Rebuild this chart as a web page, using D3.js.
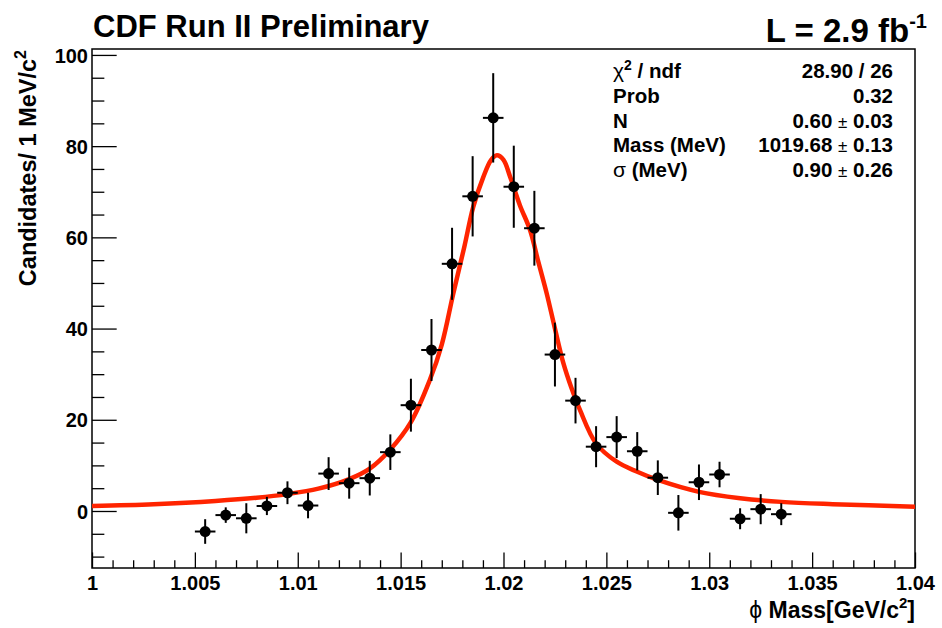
<!DOCTYPE html>
<html>
<head>
<meta charset="utf-8">
<script src="https://cdn.jsdelivr.net/npm/d3@7"></script>
<style>
  html, body { margin: 0; padding: 0; background: #fff; }
  svg text { font-family: "Liberation Sans", Arial, Helvetica, sans-serif; }
</style>
</head>
<body>
<svg id="chart" width="942" height="628"></svg>
<script>
// ---- data ----
const binCenters = [1.0055, 1.0065, 1.0075, 1.0085, 1.0095, 1.0105, 1.0115, 1.0125, 1.0135, 1.0145,
                    1.0155, 1.0165, 1.0175, 1.0185, 1.0195, 1.0205, 1.0215, 1.0225, 1.0235, 1.0245,
                    1.0255, 1.0265, 1.0275, 1.0285, 1.0295, 1.0305, 1.0315, 1.0325, 1.0335];
const candidates = [-4.5, -0.9, -1.6, 1.1, 4.0, 1.2, 8.2, 6.1, 7.2, 12.9,
                    23.2, 35.3, 54.2, 69.0, 86.2, 71.1, 62.0, 34.3, 24.2, 14.1,
                    16.2, 13.1, 7.3, -0.4, 6.3, 8.0, -1.7, 0.4, -0.7];
const errors     = [2.7, 1.7, 3.3, 2.0, 2.5, 2.8, 3.6, 3.4, 3.8, 3.9,
                    5.8, 6.8, 7.9, 8.8, 9.8, 9.0, 8.2, 7.0, 5.0, 4.5,
                    4.6, 4.2, 3.8, 3.9, 3.9, 2.8, 2.3, 3.3, 2.4];
const binHalfWidth = 0.0005;

// fit curve, points
const fitX = [1.000, 1.003, 1.006, 1.008, 1.0095, 1.011, 1.0125, 1.0135, 1.0145, 1.0155,
              1.0164, 1.0170, 1.01756, 1.0181, 1.01853, 1.0190, 1.0194, 1.01968, 1.0200, 1.02032,
              1.0208, 1.02129, 1.0217, 1.0221, 1.0225, 1.02291, 1.0233, 1.02372, 1.0245, 1.0255,
              1.0265, 1.0275, 1.0295, 1.0315, 1.0335, 1.036, 1.040];
const fitY = [1.1, 1.5, 2.2, 2.9, 3.7, 4.9, 7.0, 9.3, 13.5, 19.5,
              28.5, 36.5, 47.7, 58.0, 66.7, 73.0, 77.0, 78.0, 77.0, 73.3,
              67.0, 61.6, 54.5, 47.7, 40.0, 32.4, 27.0, 22.1, 14.8, 10.8,
              8.6, 6.8, 4.2, 2.8, 2.0, 1.5, 0.95];

const xMajorTicks = [1.0, 1.005, 1.01, 1.015, 1.02, 1.025, 1.03, 1.035, 1.04];
const xTickLabels = ["1", "1.005", "1.01", "1.015", "1.02", "1.025", "1.03", "1.035", "1.04"];
const yMajorTicks = [0, 20, 40, 60, 80, 100];
const yTickLabels = ["0", "20", "40", "60", "80", "100"];

const statNames  = ["χ2 / ndf", "Prob", "N", "Mass (MeV)", "σ (MeV)"];
const statValues = ["28.90 / 26", "0.32", "0.60 ± 0.03", "1019.68 ± 0.13", "0.90 ± 0.26"];

// ---- layout ----
const frame = { left: 92, right: 915, top: 49, bottom: 568 };
const svg = d3.select("#chart");
svg.append("rect").attr("width", 942).attr("height", 628).attr("fill", "#fff");

const x = d3.scaleLinear().domain([1.0, 1.04]).range([frame.left, frame.right]);
const y = d3.scaleLinear().domain([-12.5, 101.3]).range([frame.bottom, frame.top]);

const W = frame.right - frame.left, H = frame.bottom - frame.top;
const xTickLen = 0.03 * H, yTickLen = 0.03 * W;

// minor tick values
const xMinor = d3.range(0, 41).map(i => 1.0 + i * 0.001).filter(v => !xMajorTicks.some(m => Math.abs(m - v) < 1e-9));
const yMinor = d3.range(-10, 101, 5).filter(v => v % 20 !== 0);

// x axis
const gx = svg.append("g").attr("transform", `translate(0,${frame.bottom})`);
gx.call(d3.axisBottom(x).tickValues(xMajorTicks).tickSize(-xTickLen).tickPadding(8)
        .tickFormat((d, i) => xTickLabels[i]));
const gxm = svg.append("g").attr("transform", `translate(0,${frame.bottom})`);
gxm.call(d3.axisBottom(x).tickValues(xMinor).tickSize(-xTickLen / 2).tickFormat(""));

// y axis
const gy = svg.append("g").attr("transform", `translate(${frame.left},0)`);
gy.call(d3.axisLeft(y).tickValues(yMajorTicks).tickSize(-yTickLen).tickPadding(4)
        .tickFormat((d, i) => yTickLabels[i]));
const gym = svg.append("g").attr("transform", `translate(${frame.left},0)`);
gym.call(d3.axisLeft(y).tickValues(yMinor).tickSize(-yTickLen / 2).tickFormat(""));

[gx, gxm, gy, gym].forEach(g => {
  g.select(".domain").remove();
  g.selectAll(".tick line").attr("stroke", "#000").attr("stroke-width", 1.3);
});
gx.selectAll(".tick text").attr("font-size", 20).attr("font-weight", "bold").attr("fill", "#000")
  .attr("font-family", "Liberation Sans, Arial, sans-serif");
gy.selectAll(".tick text").attr("font-size", 20).attr("font-weight", "bold").attr("fill", "#000")
  .attr("font-family", "Liberation Sans, Arial, sans-serif").attr("dy", "0.36em");

// frame
svg.append("rect").attr("x", frame.left).attr("y", frame.top).attr("width", W).attr("height", H)
  .attr("fill", "none").attr("stroke", "#000").attr("stroke-width", 1.5);

// clip
svg.append("clipPath").attr("id", "clip").append("rect")
  .attr("x", frame.left).attr("y", frame.top).attr("width", W).attr("height", H);

const data = binCenters.map((c, i) => ({ x: c, y: candidates[i], e: errors[i] }));
const plot = svg.append("g").attr("clip-path", "url(#clip)");

// fit curve
const fitPts = fitX.map((v, i) => [v, fitY[i]]);
plot.append("path").datum(fitPts)
  .attr("d", d3.line().x(d => x(d[0])).y(d => y(d[1])).curve(d3.curveCatmullRom.alpha(0.5)))
  .attr("fill", "none").attr("stroke", "#ff2400").attr("stroke-width", 4.5).attr("stroke-linejoin", "round");

// error bars & markers
const pts = plot.append("g");
pts.selectAll("line.v").data(data).join("line").attr("class", "v")
  .attr("x1", d => x(d.x)).attr("x2", d => x(d.x))
  .attr("y1", d => y(d.y - d.e)).attr("y2", d => y(d.y + d.e))
  .attr("stroke", "#000").attr("stroke-width", 2);
pts.selectAll("line.h").data(data).join("line").attr("class", "h")
  .attr("x1", d => x(d.x - binHalfWidth)).attr("x2", d => x(d.x + binHalfWidth))
  .attr("y1", d => y(d.y)).attr("y2", d => y(d.y))
  .attr("stroke", "#000").attr("stroke-width", 2);
pts.selectAll("circle").data(data).join("circle")
  .attr("cx", d => x(d.x)).attr("cy", d => y(d.y)).attr("r", 5.5).attr("fill", "#000");

// title
svg.append("text").attr("x", 93).attr("y", 37).attr("font-size", 31).attr("font-weight", "bold")
  .text("CDF Run II Preliminary");

// luminosity
const lum = svg.append("text").attr("x", 927).attr("y", 42).attr("text-anchor", "end")
  .attr("font-size", 33).attr("font-weight", "bold");
lum.append("tspan").text("L = 2.9 fb");
lum.append("tspan").attr("dy", -14).attr("font-size", 20).text("-1");

// stats box
const rowY = i => 78 + i * 24.8;
statNames.forEach((name, i) => {
  const t = svg.append("text").attr("x", 613).attr("y", rowY(i)).attr("font-size", 20.5).attr("font-weight", "bold");
  if (name.startsWith("χ2")) {
    t.append("tspan").attr("font-weight", "normal").attr("font-size", 21).text("χ");
    t.append("tspan").attr("dy", -8).attr("font-size", 14).text("2");
    t.append("tspan").attr("dy", 8).text(" / ndf");
  } else if (name.startsWith("σ")) {
    t.append("tspan").attr("font-weight", "normal").attr("font-size", 21).text("σ");
    t.append("tspan").text(" (MeV)");
  } else {
    t.text(name);
  }
});
statValues.forEach((val, i) => {
  const t = svg.append("text").attr("x", 893).attr("y", rowY(i)).attr("text-anchor", "end")
    .attr("font-size", 20.5).attr("font-weight", "bold");
  const parts = val.split(" ± ");
  if (parts.length === 2) {
    t.append("tspan").text(parts[0] + " ");
    t.append("tspan").attr("font-weight", "normal").attr("font-size", 17).text("±");
    t.append("tspan").text(" " + parts[1]);
  } else {
    t.text(val);
  }
});

// y axis title
const yt = svg.append("text").attr("transform", `translate(36,${frame.top + 1}) rotate(-90)`)
  .attr("text-anchor", "end").attr("font-size", 23.5).attr("font-weight", "bold");
yt.append("tspan").text("Candidates/ 1 MeV/c");
yt.append("tspan").attr("dy", -10).attr("font-size", 16).text("2");

// x axis title
const xt = svg.append("text").attr("x", frame.right).attr("y", 618).attr("text-anchor", "end")
  .attr("font-size", 23).attr("font-weight", "bold");
xt.append("tspan").attr("font-weight", "normal").text("ϕ ");
xt.append("tspan").text("Mass[GeV/c");
xt.append("tspan").attr("dy", -10).attr("font-size", 15).text("2");
xt.append("tspan").attr("dy", 10).text("]");
</script>
</body>
</html>
